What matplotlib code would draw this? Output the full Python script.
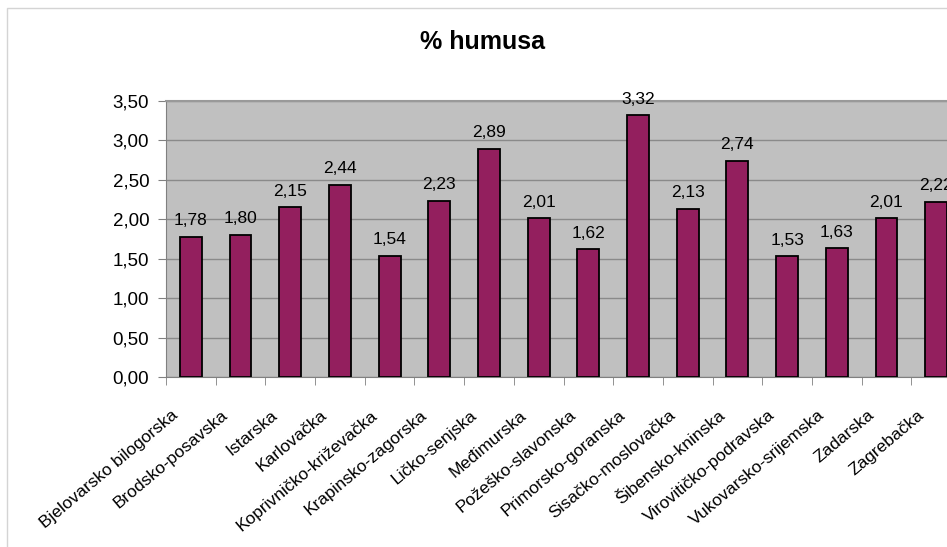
import matplotlib.pyplot as plt
from matplotlib.patches import Rectangle
from matplotlib.ticker import FuncFormatter, FixedLocator
import numpy as np

# podaci
zupanije = ["Bjelovarsko bilogorska", "Brodsko-posavska", "Istarska", "Karlovačka",
            "Koprivničko-križevačka", "Krapinsko-zagorska", "Ličko-senjska", "Međimurska",
            "Požeško-slavonska", "Primorsko-goranska", "Sisačko-moslovačka", "Šibensko-kninska",
            "Virovitičko-podravska", "Vukovarsko-srijemska", "Zadarska", "Zagrebačka"]
humus = [1.78, 1.80, 2.15, 2.44, 1.54, 2.23, 2.89, 2.01, 1.62, 3.32, 2.13, 2.74,
         1.53, 1.63, 2.01, 2.22]
yticks = [0, 0.5, 1.0, 1.5, 2.0, 2.5, 3.0, 3.5]

plt.rcParams['font.family'] = ['Liberation Sans', 'DejaVu Sans']

W, H = 947, 547
fig = plt.figure(figsize=(W / 100, H / 100), dpi=100)

# okvir grafikona
fig.patches.append(Rectangle((7 / W, -0.05), 1.1, 1.05 - 8 / H, transform=fig.transFigure,
                             fill=False, edgecolor="#d4d4d4", lw=1))

ax = fig.add_axes([166 / W, 170 / H, 795 / W, 276 / H])
ax.set_facecolor("#c0c0c0")

x = np.arange(len(zupanije))
bars = ax.bar(x, humus, width=0.44, color="#931f5e", edgecolor="black", linewidth=1.3, zorder=3)

for b, v in zip(bars, humus):
    ax.text(b.get_x() + b.get_width() / 2, v + 0.11, f"{v:.2f}".replace(".", ","),
            ha="center", va="bottom", fontsize=12.5, zorder=4)

ax.set_xlim(-0.5, len(zupanije) - 0.5)
ax.set_ylim(0, 3.5)
ax.set_yticks(yticks)
ax.yaxis.set_major_formatter(FuncFormatter(lambda v, p: f"{v:.2f}".replace(".", ",")))
ax.yaxis.grid(True, color="#8a8a8a", lw=1, zorder=1)

# natpisi malo lijevo od sredine stupca, kao u Excelu
ax.set_xticks(x - 0.39)
ax.set_xticklabels(zupanije, rotation=40, ha="right", rotation_mode="anchor", fontsize=12.5)
ax.xaxis.set_minor_locator(FixedLocator(np.arange(-0.5, len(zupanije), 1)))
ax.tick_params(axis="x", which="major", length=0, pad=22)
ax.tick_params(axis="x", which="minor", length=6, color="#808080", direction="out")
ax.tick_params(axis="y", length=6, color="#808080", labelsize=13.5, pad=6)

for s in ["left", "bottom"]:
    ax.spines[s].set_color("#808080")
ax.spines["top"].set_color("#999999")
ax.spines["top"].set_linewidth(1.5)
ax.spines["right"].set_visible(False)

fig.text(482 / W, 1 - 42 / H, "% humusa", ha="center", va="center", fontsize=18, fontweight="bold")

fig.savefig("out.png", dpi=100)
